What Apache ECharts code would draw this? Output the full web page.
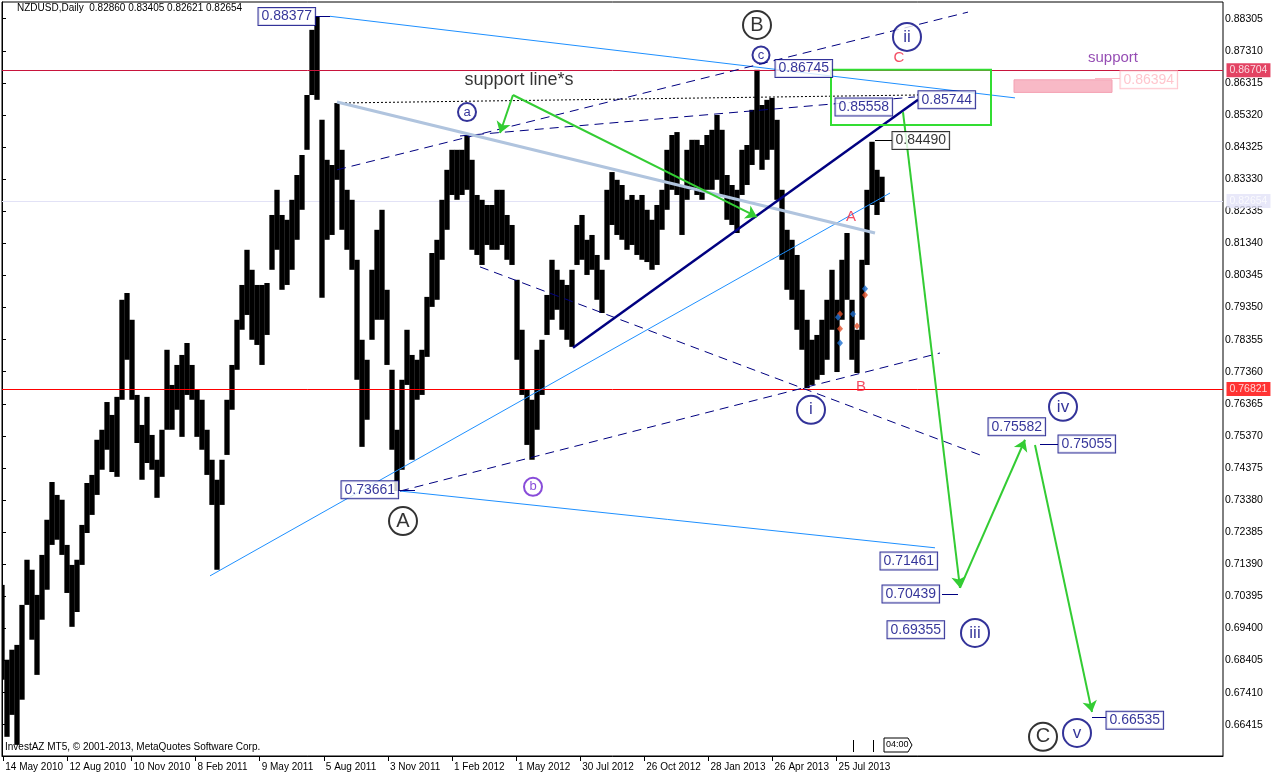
<!DOCTYPE html>
<html><head><meta charset="utf-8">
<script src="https://cdn.jsdelivr.net/npm/echarts@6/dist/echarts.min.js"></script>
<style>html,body{margin:0;padding:0;background:#fff}#c{width:1276px;height:777px}</style>
</head><body><div id="c"></div>
<script>
// ---------------- DATA ----------------
const symbolName = 'NZDUSD,Daily';
const lastOHLC = [0.82860, 0.83405, 0.82621, 0.82654];
const dateLabels = ['14 May 2010','12 Aug 2010','10 Nov 2010','8 Feb 2011','9 May 2011','5 Aug 2011','3 Nov 2011','1 Feb 2012','1 May 2012','30 Jul 2012','26 Oct 2012','28 Jan 2013','26 Apr 2013','25 Jul 2013'];
const yTickLabels = ['0.88305','0.87310','0.86315','0.85320','0.84325','0.83330','0.82335','0.81340','0.80345','0.79350','0.78355','0.77360','0.76365','0.75370','0.74375','0.73380','0.72385','0.71390','0.70395','0.69400','0.68405','0.67410','0.66415'];
const barStep = 5; // each entry summarises 5 daily bars
const highs = [
0.7075,0.6843,0.6874,0.6889,0.7013,0.7153,0.7122,0.7044,0.7168,0.7277,
0.7394,0.7354,0.7339,0.7199,0.7137,0.7153,0.7261,0.7391,0.7416,0.7525,
0.7556,0.7642,0.7602,0.7658,0.7959,0.7980,0.7897,0.7664,0.7571,0.7658,
0.7540,0.7463,0.7556,0.7804,0.7695,0.7757,0.7788,0.7825,0.7757,0.7680,
0.7649,0.7556,0.7463,0.7401,0.7463,0.7649,0.7757,0.7897,0.8005,0.8114,
0.8052,0.8005,0.8005,0.8011,0.8222,0.8300,0.8222,0.8207,0.8269,0.8346,
0.8408,0.8594,0.8796,0.8838,0.8517,0.8393,0.8377,0.8569,0.8424,0.8300,
0.8269,0.8083,0.7835,0.7773,0.8052,0.8176,0.8238,0.7990,0.7742,0.7556,
0.7711,0.7866,0.7788,0.7773,0.7804,0.7968,0.8104,0.8145,0.8269,0.8362,
0.8424,0.8424,0.8424,0.8470,0.8393,0.8284,0.8269,0.8253,0.8253,0.8300,
0.8300,0.8222,0.8191,0.8021,0.7866,0.7680,0.7649,0.7804,0.7835,0.7974,
0.8083,0.8052,0.8021,0.8005,0.8052,0.8191,0.8222,0.8145,0.8160,0.8098,
0.8052,0.8300,0.8355,0.8331,0.8315,0.8269,0.8284,0.8269,0.8284,0.8238,
0.8207,0.8253,0.8300,0.8424,0.8470,0.8479,0.8315,0.8424,0.8455,0.8455,
0.8439,0.8470,0.8486,0.8532,0.8486,0.8346,0.8315,0.8300,0.8424,0.8439,
0.8548,0.8672,0.8563,0.8579,0.8585,0.8517,0.8300,0.8176,0.8145,0.8098,
0.7990,0.7897,0.7835,0.7850,0.7897,0.7959,0.8052,0.7959,0.8083,0.8166,
0.7959,0.7866,0.8083,0.8300,0.8449,0.8362,0.83405];
const lows = [
0.6781,0.6604,0.6672,0.6579,0.6719,0.7013,0.6905,0.6796,0.6967,0.7060,
0.7199,0.7215,0.7168,0.7050,0.6945,0.6991,0.7137,0.7236,0.7292,0.7354,
0.7432,0.7494,0.7425,0.7410,0.7649,0.7773,0.7649,0.7515,0.7401,0.7453,
0.7432,0.7345,0.7410,0.7556,0.7556,0.7618,0.7534,0.7664,0.7649,0.7534,
0.7494,0.7416,0.7323,0.7122,0.7323,0.7478,0.7618,0.7742,0.7866,0.7912,
0.7835,0.7819,0.7757,0.7850,0.8052,0.8114,0.7990,0.8005,0.8052,0.8145,
0.8238,0.8424,0.8594,0.8579,0.7965,0.8145,0.8160,0.8331,0.8176,0.8114,
0.8052,0.7711,0.7503,0.7587,0.7835,0.7897,0.7897,0.7757,0.7494,0.7366,
0.7432,0.7695,0.7463,0.7649,0.7664,0.7782,0.7937,0.7959,0.8083,0.8176,
0.8284,0.8269,0.8284,0.8300,0.8114,0.8098,0.8067,0.8129,0.8114,0.8114,
0.8129,0.8083,0.8067,0.7773,0.7664,0.7509,0.7463,0.7556,0.7664,0.7850,
0.7897,0.7928,0.7866,0.7835,0.7813,0.8067,0.8083,0.8036,0.8052,0.7959,
0.7918,0.8083,0.8191,0.8160,0.8145,0.8114,0.8129,0.8098,0.8083,0.8076,
0.8052,0.8067,0.8176,0.8238,0.8300,0.8284,0.8160,0.8269,0.8300,0.8284,
0.8269,0.8300,0.8300,0.8331,0.8284,0.8207,0.8191,0.8166,0.8284,0.8315,
0.8377,0.8424,0.8362,0.8393,0.8424,0.8269,0.8083,0.7990,0.7959,0.7866,
0.7804,0.7685,0.7695,0.7711,0.7726,0.7773,0.7866,0.7735,0.7897,0.7959,
0.7773,0.7732,0.7835,0.8067,0.8253,0.8222,0.82621];
const levelValues = [0.86704, 0.82654, 0.76821];
const priceTagValues = ['0.88377','0.86745','0.85558','0.85744','0.84490','0.73661','0.71461','0.70439','0.69355','0.75582','0.75055','0.66535','0.86394'];
const waveLabels = ['B','ii','c','a','b','A','i','iv','iii','C','v'];

// ---------------- LAYOUT / ANNOTATIONS (bar index, price) ----------------
const FONT = 'Liberation Sans';
const X_MAX = 1221;
const segs = [
  [328,0.8838,1013,0.8585,'#1e90ff',1,'solid'],
  [398,0.7366,933,0.7190,'#1e90ff',1,'solid'],
  [208,0.7103,888,0.8290,'#1e90ff',1,'solid'],
  [335,0.8362,966,0.8851,'#000080',1,[9,6]],
  [458,0.8467,913,0.8588,'#000080',1,[9,6]],
  [335,0.8569,916,0.8594,'#000000',1,[2,2]],
  [335,0.8572,873,0.8166,'#b0c4de',3,'solid'],
  [571,0.7810,916,0.8579,'#000080',2.5,'solid'],
  [478,0.8061,978,0.7478,'#000080',1,[9,6]],
  [398,0.7366,938,0.7794,'#000080',1,[9,6]],
  [313,0.8838,328,0.8838,'#000080',1,'solid'],
  [397,0.7370,413,0.7370,'#000080',1,'solid'],
  [873,0.8455,890,0.8455,'#000000',1,'solid'],
  [940,0.7047,956,0.7047,'#000080',1,'solid'],
  [1038,0.7512,1056,0.7512,'#000080',1,'solid'],
  [1090,0.6666,1104,0.6666,'#000080',1,'solid'],
  [1093,0.8647,1118,0.8647,'#ffb6c1',1,'solid']
];
const levelStyle = [['#c8143c','#dc143c'],['#e2e2f6','#e2e2f8'],['#ff0000','#ff0000']];
const arrows = [
  [511,0.8594,498,0.8476],
  [511,0.8594,755,0.8216],
  [901,0.8541,958,0.7066],
  [958,0.7066,1023,0.7525],
  [1033,0.7509,1090,0.6681]
];
const greenBox = [[829,0.8672],[989,0.8672],[989,0.8501],[829,0.8501],[829,0.8672]];
const tagPos = [
  [256,0.8837,'#000080'],[773,0.8676,'#000080'],[833,0.8557,'#000080'],[916,0.8579,'#000080'],
  [890,0.8453,'#000000'],[339,0.7370,'#000080'],[878,0.7149,'#000080'],[880,0.7047,'#000080'],
  [885,0.6936,'#000080'],[986,0.7565,'#000080'],[1056,0.7512,'#000080'],[1104,0.6655,'#000080'],
  [1118,0.8641,'#ffb6c1']
];
const wavePos = [
  [755,0.8811,'#000000',28,20],[905,0.8774,'#000080',28,17],[759,0.8718,'#000080',17,13],
  [465,0.8541,'#000080',18,13],[531,0.7379,'#6a1fd0',18,13],[401,0.7273,'#000000',28,20],
  [809,0.7618,'#000080',28,17],[1061,0.7627,'#000080',28,17],[973,0.6926,'#000080',28,17],
  [1041,0.6604,'#000000',28,20],[1075,0.6616,'#000080',28,17]
];
const plainTexts = [
  ['C',897,0.8709,'#f0203c',15],['A',849,0.8216,'#f0203c',15],['B',859,0.7689,'#f0203c',15],
  ['support line*s',517,0.8641,'#000000',18],['support',1111,0.8709,'#7a1fa0',15]
];
const tradeMarks = [
  [838,0.7915,'#e0502a'],[838,0.7869,'#e0502a'],[855,0.7878,'#e0502a'],[863,0.7974,'#e0502a'],
  [838,0.7825,'#1e6fd0'],[851,0.7915,'#1e6fd0'],[863,0.7993,'#1e6fd0'],[836,0.7905,'#1e6fd0']
];

const xTickVals = dateLabels.map((_, k) => 1.3 + 64.1 * k);
const yTickVals = yTickLabels.map(Number);
const bars = highs.map((h, k) => [k * barStep, lows[k], h]);

const chart = echarts.init(document.getElementById('c'), null, {renderer: 'canvas'});

const levelSeries = levelValues.map((v, i) => ({
  type: 'lines', coordinateSystem: 'cartesian2d', z: i === 1 ? 2 : 4, silent: true, symbol: 'none',
  lineStyle: {color: levelStyle[i][0], width: 1, type: 'solid', opacity: 1},
  data: [{coords: [[0, v], [X_MAX, v]]}]
}));

chart.setOption({
  animation: false,
  backgroundColor: '#fff',
  grid: {left: 2, right: 53, top: 2, bottom: 21, show: true, borderColor: '#000', borderWidth: 1, backgroundColor: '#fff'},
  xAxis: {
    type: 'value', min: 0, max: X_MAX,
    splitLine: {show: false},
    axisLine: {show: true, lineStyle: {color: '#000', width: 1}},
    axisTick: {show: true, customValues: xTickVals, length: 5, lineStyle: {color: '#000'}},
    axisLabel: {customValues: xTickVals, align: 'left', margin: 6, color: '#000', fontSize: 10, fontFamily: FONT,
      padding: [0,0,0,2],
      formatter: v => { const k = Math.round((v - 1.3) / 64.1); return dateLabels[k] || ''; }}
  },
  yAxis: {
    type: 'value', position: 'right', min: 0.65445, max: 0.88823, scale: true,
    splitLine: {show: false},
    axisLine: {show: true, lineStyle: {color: '#000', width: 1}},
    axisTick: {show: true, customValues: yTickVals, length: 4, lineStyle: {color: '#000'}},
    axisLabel: {customValues: yTickVals, margin: 2, color: '#000', fontSize: 10.5, fontFamily: FONT,
      formatter: v => v.toFixed(5)}
  },
  graphic: [
    {type: 'text', left: 17, top: 3, z: 100, style: {text: symbolName + '  ' + lastOHLC.map(v => v.toFixed(5)).join(' '), font: '10px ' + FONT, fill: '#000'}},
    {type: 'text', left: 5, top: 742, z: 100, style: {text: 'InvestAZ MT5, \u00a9 2001-2013, MetaQuotes Software Corp.', font: '10px ' + FONT, fill: '#000'}},
    {type: 'polygon', z: 100, shape: {points: [[884,738],[908,738],[912,745],[908,752],[884,752]]}, style: {fill: '#fff', stroke: '#000', lineWidth: 1}},
    {type: 'text', left: 886, top: 740, z: 101, style: {text: '04:00', font: '9px ' + FONT, fill: '#000'}},
    {type: 'line', z: 100, shape: {x1: 853.5, y1: 740, x2: 853.5, y2: 752}, style: {stroke: '#000', lineWidth: 1}},
    {type: 'line', z: 100, shape: {x1: 873.5, y1: 740, x2: 873.5, y2: 752}, style: {stroke: '#000', lineWidth: 1}}
  ],
  series: levelSeries.concat([
    {
      type: 'custom', name: 'price', z: 3, clip: true,
      data: bars,
      encode: {x: 0, y: [1, 2]},
      renderItem: (params, api) => {
        const x = api.value(0), lo = api.value(1), hi = api.value(2);
        const p1 = api.coord([x, hi]), p2 = api.coord([x, lo]);
        const w = api.size([barStep, 0])[0] + 0.3;
        return {type: 'rect', shape: {x: p1[0] - w / 2, y: p1[1], width: w, height: Math.max(1, p2[1] - p1[1])}, style: {fill: '#000'}};
      },
      markArea: {
        silent: true,
        data: [[{coord: [1012, 0.8641], itemStyle: {color: '#f8b9c6', borderColor: '#f4a0b2', borderWidth: 1}}, {coord: [1110, 0.8602]}]]
      }
    },
    {
      type: 'lines', coordinateSystem: 'cartesian2d', z: 5, silent: true, symbol: 'none',
      data: segs.map(s => ({coords: [[s[0], s[1]], [s[2], s[3]]], lineStyle: {color: s[4], width: s[5], type: s[6], opacity: 1}}))
    },
    {
      type: 'scatter', z: 10, silent: true, symbolSize: 1, clip: false, itemStyle: {color: 'rgba(0,0,0,0)'},
      data: levelValues.map((v, i) => ({
        value: [X_MAX, v],
        label: {show: true, position: 'right', distance: 3, formatter: v.toFixed(5), color: '#fff',
          backgroundColor: levelStyle[i][1], padding: [2, 3, 1, 3], fontSize: 10.5, fontFamily: FONT}
      }))
    },
    {
      type: 'lines', coordinateSystem: 'cartesian2d', z: 6, silent: true, polyline: true, symbol: 'none',
      lineStyle: {color: '#33dd33', width: 2, opacity: 1},
      data: [{coords: greenBox}]
    },
    {
      type: 'lines', coordinateSystem: 'cartesian2d', z: 6, silent: true,
      symbol: ['none', 'arrow'], symbolSize: 11,
      lineStyle: {color: '#33cc33', width: 2, opacity: 1},
      data: arrows.map(a => ({coords: [[a[0], a[1]], [a[2], a[3]]]}))
    },
    {
      type: 'scatter', z: 7, silent: true, symbol: 'diamond', symbolSize: [6, 7],
      data: tradeMarks.map(t => ({value: [t[0], t[1]], itemStyle: {color: t[2]}}))
    },
    {
      type: 'scatter', z: 8, silent: true, symbolSize: 1, itemStyle: {color: 'rgba(0,0,0,0)'},
      data: priceTagValues.map((t, i) => ({
        value: [tagPos[i][0], tagPos[i][1]],
        label: {show: true, position: 'right', distance: 0, formatter: t, color: tagPos[i][2],
          borderColor: tagPos[i][2], borderWidth: 1, backgroundColor: '#fff', padding: [2, 3, 1, 3],
          fontSize: 14, fontFamily: FONT}
      }))
    },
    {
      type: 'scatter', z: 9, silent: true, symbol: 'circle',
      data: waveLabels.map((t, i) => ({
        value: [wavePos[i][0], wavePos[i][1]], symbolSize: wavePos[i][3],
        itemStyle: {color: '#fff', borderColor: wavePos[i][2], borderWidth: 2},
        label: {show: true, position: 'inside', formatter: t, color: wavePos[i][2], fontSize: wavePos[i][4], fontFamily: FONT}
      }))
    },
    {
      type: 'scatter', z: 9, silent: true, symbolSize: 1, itemStyle: {color: 'rgba(0,0,0,0)'},
      data: plainTexts.map(t => ({
        value: [t[1], t[2]],
        label: {show: true, position: 'inside', formatter: t[0], color: t[3], fontSize: t[4], fontFamily: FONT}
      }))
    }
  ])
});
</script>
</body></html>
